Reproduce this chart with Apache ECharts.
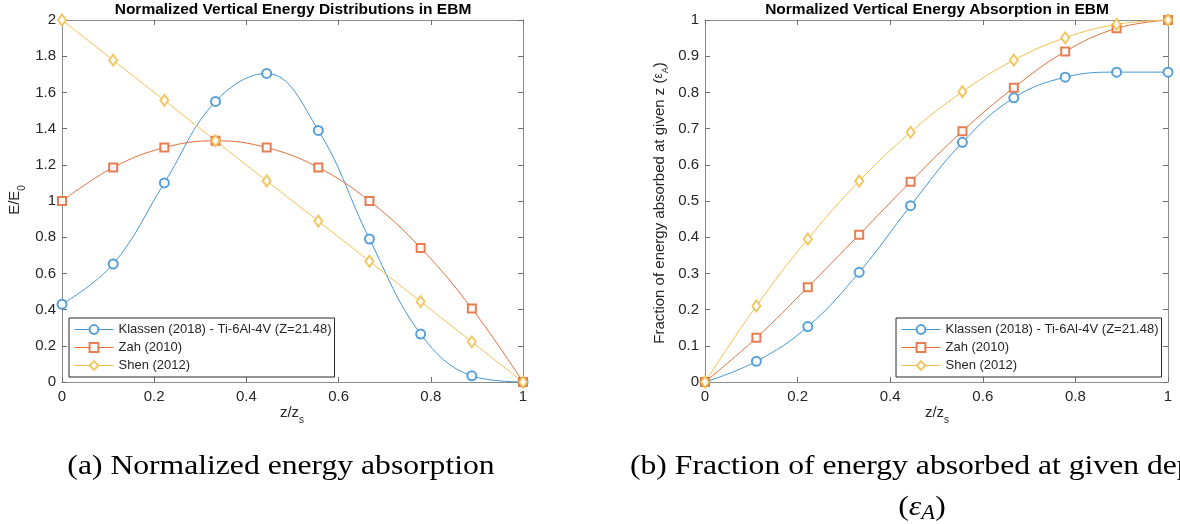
<!DOCTYPE html>
<html>
<head>
<meta charset="utf-8">
<script src="https://cdn.jsdelivr.net/npm/echarts@6/dist/echarts.min.js"></script>
<style>
  html, body { margin: 0; padding: 0; background: #fff; }
  #chart { width: 1180px; height: 524px; }
</style>
</head>
<body>
<div id="chart"></div>
<script>
// normalized depth z/z_s where markers sit
const zs = [0, 0.111, 0.222, 0.333, 0.444, 0.556, 0.667, 0.778, 0.889, 1]

// (a) normalized energy E/E0
const klassenE = [0.43, 0.652, 1.10, 1.55, 1.705, 1.39, 0.79, 0.265, 0.034, 0]
const zahE = [1, 1.185, 1.295, 1.333, 1.295, 1.185, 1.0, 0.741, 0.406, 0]
const shenE = [2, 1.778, 1.556, 1.333, 1.111, 0.889, 0.667, 0.444, 0.222, 0]

// (b) fraction absorbed
const klassenA = [0, 0.057, 0.153, 0.303, 0.487, 0.662, 0.785, 0.842, 0.856, 0.856]
const zahA = [0, 0.122, 0.262, 0.407, 0.553, 0.693, 0.813, 0.913, 0.977, 1]
const shenA = [0, 0.21, 0.395, 0.555, 0.69, 0.802, 0.889, 0.951, 0.988, 1]

const names = ['Klassen (2018) - Ti-6Al-4V (Z=21.48)', 'Zah (2010)', 'Shen (2012)']
const colors = ['#4596d4', '#e2703f', '#f0c150']
const symbols = ['emptyCircle', 'emptyRect', 'emptyDiamond']
const symbolSizes = [9, 8, [8, 11]]

const sansFont = '"Liberation Sans", Arial, sans-serif'
const serifFont = '"Liberation Serif", "DejaVu Serif", serif'

const chart = echarts.init(document.getElementById('chart'))

const ctx = document.createElement('canvas').getContext('2d')
const measure = (t, size, font, style) => {
  ctx.font = (style || 'normal') + ' ' + size + 'px ' + font
  return ctx.measureText(t).width
}

// text made of pieces (for subscripts), centred at x,y, optionally rotated
const subText = (parts, x, y, rotation, font, color, scaleX) => {
  const widths = parts.map(p => measure(p.t, p.size, font, p.style))
  const total = widths.reduce((a, b) => a + b, 0)
  let cx = -total / 2
  const children = parts.map((p, i) => {
    const el = {
      type: 'text',
      x: cx,
      y: p.dy || 0,
      style: {
        text: p.t,
        fontSize: p.size,
        fontFamily: font,
        fontStyle: p.style || 'normal',
        fill: color,
        textAlign: 'left',
        textVerticalAlign: 'middle'
      }
    }
    cx += widths[i]
    return el
  })
  return { type: 'group', x, y, rotation: rotation || 0, scaleX: scaleX || 1, children }
}

const tickStyle = { inside: true, length: 5, lineStyle: { color: '#6e6e6e', width: 1 } }
const lineStyle = { onZero: false, lineStyle: { color: '#8c8c8c', width: 1 } }
const labelStyle = { color: '#262626', fontSize: 15, fontFamily: sansFont }

const xAxes = (grid) => [
  {
    type: 'value', gridIndex: grid, position: 'bottom', min: 0, max: 1, interval: 0.2,
    axisLine: lineStyle, axisTick: tickStyle, splitLine: { show: false },
    axisLabel: Object.assign({ margin: 7 }, labelStyle)
  },
  {
    type: 'value', gridIndex: grid, position: 'top', min: 0, max: 1, interval: 0.2,
    axisLine: lineStyle, axisTick: tickStyle, splitLine: { show: false },
    axisLabel: { show: false }
  }
]
const yAxes = (grid, max, interval) => [
  {
    type: 'value', gridIndex: grid, position: 'left', min: 0, max, interval,
    axisLine: lineStyle, axisTick: tickStyle, splitLine: { show: false },
    axisLabel: Object.assign({ margin: 6 }, labelStyle)
  },
  {
    type: 'value', gridIndex: grid, position: 'right', min: 0, max, interval,
    axisLine: lineStyle, axisTick: tickStyle, splitLine: { show: false },
    axisLabel: { show: false }
  }
]

const makeSeries = (values, idx, axisIndex) => ({
  name: names[idx],
  type: 'line',
  xAxisIndex: axisIndex,
  yAxisIndex: axisIndex,
  data: zs.map((z, i) => [z, values[i]]),
  smooth: 0.4,
  symbol: symbols[idx],
  symbolSize: symbolSizes[idx],
  clip: false,
  color: colors[idx],
  lineStyle: { width: 1, color: colors[idx] },
  itemStyle: { color: colors[idx], borderWidth: 0.9, opacity: 0.9 },
  emphasis: { disabled: true }
})

const legendBase = {
  orient: 'vertical',
  top: 318,
  data: names,
  itemWidth: 39,
  itemHeight: 11,
  itemGap: 5,
  padding: [5, 3, 5, 5],
  backgroundColor: '#fff',
  borderColor: '#262626',
  borderWidth: 1,
  borderRadius: 0,
  lineStyle: { width: 1 },
  itemStyle: { borderWidth: 0.9 },
  textStyle: { fontSize: 13, color: '#262626', fontFamily: sansFont },
  selectedMode: false
}

const option = {
  animation: false,
  backgroundColor: '#fff',
  grid: [
    { left: 62, top: 20, width: 461, height: 362 },
    { left: 705, top: 20, width: 463, height: 362 }
  ],
  xAxis: [...xAxes(0), ...xAxes(1)],
  yAxis: [...yAxes(0, 2, 0.2), ...yAxes(1, 1, 0.1)],
  legend: [
    Object.assign({ left: 69 }, legendBase),
    Object.assign({ left: 896 }, legendBase)
  ],
  series: [
    makeSeries(klassenE, 0, 0),
    makeSeries(zahE, 1, 0),
    makeSeries(shenE, 2, 0),
    makeSeries(klassenA, 0, 2),
    makeSeries(zahA, 1, 2),
    makeSeries(shenA, 2, 2)
  ],
  graphic: [
    {
      type: 'text', x: 293, y: 10,
      style: { text: 'Normalized Vertical Energy Distributions in EBM', fontSize: 15.5, fontWeight: 'bold',
        fontFamily: sansFont, fill: '#000', textAlign: 'center', textVerticalAlign: 'middle' }
    },
    {
      type: 'text', x: 937, y: 10,
      style: { text: 'Normalized Vertical Energy Absorption in EBM', fontSize: 15.5, fontWeight: 'bold',
        fontFamily: sansFont, fill: '#000', textAlign: 'center', textVerticalAlign: 'middle' }
    },
    subText([{ t: 'z/z', size: 15 }, { t: 's', size: 10, dy: 7 }], 292, 413, 0, sansFont, '#262626'),
    subText([{ t: 'z/z', size: 15 }, { t: 's', size: 10, dy: 7 }], 937, 413, 0, sansFont, '#262626'),
    subText([{ t: 'E/E', size: 15 }, { t: '0', size: 10, dy: 7 }], 15, 200, Math.PI / 2, sansFont, '#262626'),
    subText([{ t: 'Fraction of energy absorbed at given z (', size: 15 }, { t: '\u03b5', size: 12, dy: -1 },
      { t: 'A', size: 9, dy: 6 }, { t: ')', size: 15 }], 660, 203, Math.PI / 2, sansFont, '#262626'),
    {
      type: 'text', x: 281, y: 467, scaleX: 1.13,
      style: { text: '(a) Normalized energy absorption', fontSize: 28, fontFamily: serifFont,
        fill: '#000', textAlign: 'center', textVerticalAlign: 'middle' }
    },
    {
      type: 'text', x: 630, y: 467, scaleX: 1.13,
      style: { text: '(b) Fraction of energy absorbed at given depth', fontSize: 28, fontFamily: serifFont,
        fill: '#000', textAlign: 'left', textVerticalAlign: 'middle' }
    },
    subText([{ t: '(', size: 28 }, { t: '\u03b5', size: 28, style: 'italic' },
      { t: 'A', size: 20, style: 'italic', dy: 6 }, { t: ')', size: 28 }], 922, 508, 0, serifFont, '#000', 1.13)
  ]
}

chart.setOption(option)
</script>
</body>
</html>
